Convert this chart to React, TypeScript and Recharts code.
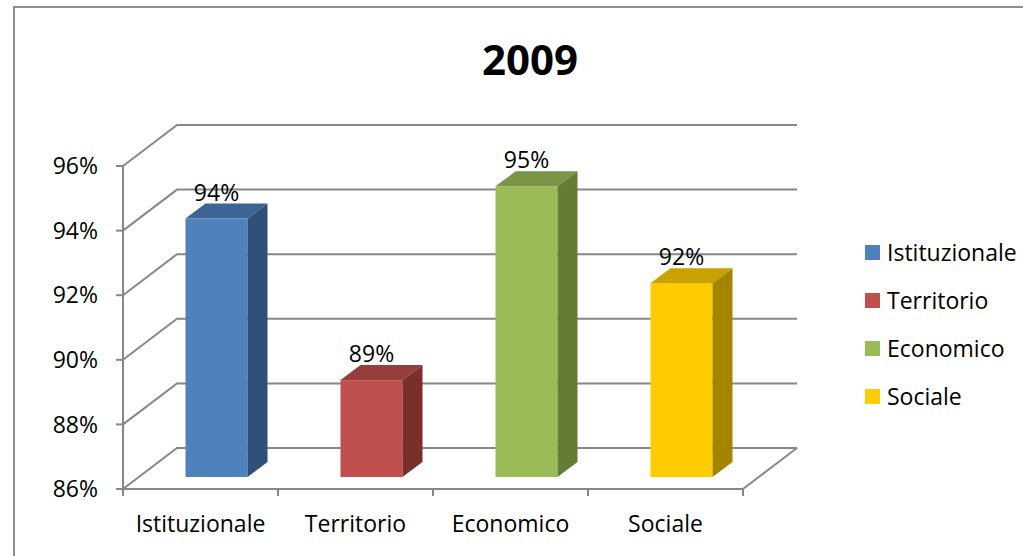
import React from 'react';
import { BarChart, Bar, XAxis, YAxis, CartesianGrid, Legend, LabelList } from 'recharts';

const title = '2009';
const categories = ['Istituzionale', 'Territorio', 'Economico', 'Sociale'];
const values = [94, 89, 95, 92];
const yTicks = [86, 88, 90, 92, 94, 96];
const frontColors = ['#4F81BD', '#C0504D', '#9BBB59', '#FFCC00'];
const topColors = ['#3C6596', '#953E3B', '#7A9545', '#C9A200'];
const sideColors = ['#2F5079', '#7A2F2D', '#657C36', '#A58500'];

const data = categories.map((name, i) => ({ name, value: values[i], i }));

const W = 1023;
const H = 556;
const M = { top: 166, right: 280, bottom: 17, left: 23 };
const Y_W = 100;
const X_H = 50;
const plotW = W - M.left - M.right - Y_W;
const band = plotW / categories.length;

const WALL_DX = 54;
const WALL_DY = 41;
const BAR_SHIFT_X = 15.5;
const BAR_SHIFT_Y = 12;
const BAR_DX = 20;
const BAR_DY = 15;
const GRID = '#878787';
const FONT = '"Open Sans", sans-serif';
const FS = 23;

const gridLine = (p: any) => {
  const { x1, y1, x2 } = p;
  return (
    <polyline
      key={p.key ?? `g-${y1}`}
      points={`${x1},${y1} ${x1 + WALL_DX},${y1 - WALL_DY} ${x2 + WALL_DX},${y1 - WALL_DY}`}
      fill="none"
      stroke={GRID}
      strokeWidth={2}
    />
  );
};

const Bar3D = (p: any) => {
  const { x, y, width, height, payload } = p;
  const i = payload.i;
  const fx = x + BAR_SHIFT_X;
  const fy = y - BAR_SHIFT_Y;
  const bx = fx + width;
  const by = fy + height;
  return (
    <g>
      <rect x={fx} y={fy} width={width} height={height} fill={frontColors[i]} />
      <polygon
        points={`${fx},${fy} ${bx},${fy} ${bx + BAR_DX},${fy - BAR_DY} ${fx + BAR_DX},${fy - BAR_DY}`}
        fill={topColors[i]}
      />
      <polygon
        points={`${bx},${fy} ${bx + BAR_DX},${fy - BAR_DY} ${bx + BAR_DX},${by - BAR_DY} ${bx},${by}`}
        fill={sideColors[i]}
      />
    </g>
  );
};

const BarLabel = (p: any) => {
  const vb = p.viewBox || {};
  const x = p.x ?? vb.x;
  const y = p.y ?? vb.y;
  const width = p.width ?? vb.width;
  return (
    <text
      x={x + width / 2 + BAR_SHIFT_X}
      y={y - 30}
      textAnchor="middle"
      fontSize={FS}
      fontFamily={FONT}
      fill="#000"
    >
      {`${p.value}%`}
    </text>
  );
};

const XTick = (p: any) => {
  const { x, y, payload, index } = p;
  const half = band / 2;
  const last = index === categories.length - 1;
  return (
    <g>
      <line x1={x - half} y1={y} x2={x - half} y2={y + 7} stroke={GRID} strokeWidth={2} />
      {last && <line x1={x + half} y1={y} x2={x + half} y2={y + 7} stroke={GRID} strokeWidth={2} />}
      {last && (
        <line x1={x + half} y1={y} x2={x + half + WALL_DX} y2={y - WALL_DY} stroke={GRID} strokeWidth={2} />
      )}
      <text x={x} y={y + 43} textAnchor="middle" fontSize={FS} fontFamily={FONT} fill="#000">
        {payload.value}
      </text>
    </g>
  );
};

const LegendContent = () => (
  <div style={{ fontFamily: FONT, fontSize: FS, color: '#000' }}>
    {categories.map((c, i) => (
      <div key={c} style={{ display: 'flex', alignItems: 'center', height: 48 }}>
        <div style={{ width: 15, height: 15, background: frontColors[i], marginRight: 7 }} />
        <span style={{ lineHeight: '48px', whiteSpace: 'nowrap' }}>{c}</span>
      </div>
    ))}
  </div>
);

export default function App() {
  return (
    <div style={{ position: 'absolute', left: 0, top: 0, width: W, height: H, overflow: 'hidden', background: '#fff' }}>
      <div
        style={{
          position: 'absolute',
          left: 13,
          top: 6,
          width: W - 13,
          height: H - 6,
          borderLeft: '2.5px solid #8E8E8E',
          borderTop: '2.5px solid #8E8E8E',
          boxSizing: 'border-box',
        }}
      />
      <div
        style={{
          position: 'absolute',
          left: 430,
          top: 38,
          width: 200,
          textAlign: 'center',
          fontFamily: FONT,
          fontWeight: 700,
          fontSize: 42,
          lineHeight: '42px',
          color: '#000',
        }}
      >
        {title}
      </div>
      <div style={{ position: 'absolute', left: 0, top: 0 }}>
        <BarChart width={W} height={H} data={data} margin={M} barSize={62}>
          <CartesianGrid horizontal={gridLine} vertical={false} />
          <XAxis
            dataKey="name"
            height={X_H}
            interval={0}
            tickSize={0}
            tickMargin={0}
            tickLine={false}
            axisLine={{ stroke: GRID, strokeWidth: 2 }}
            tick={<XTick />}
          />
          <YAxis
            width={Y_W}
            domain={[86, 96]}
            ticks={yTicks}
            allowDataOverflow
            tickFormatter={(v: number) => `${v}%`}
            tickSize={7}
            tickMargin={18}
            axisLine={{ stroke: GRID, strokeWidth: 2 }}
            tickLine={{ stroke: GRID, strokeWidth: 2 }}
            tick={{ fill: '#000', fontSize: FS, fontFamily: FONT }}
          />
          <Legend
            layout="vertical"
            align="center"
            verticalAlign="middle"
            wrapperStyle={{ left: 865, top: 228, width: 160 }}
            content={<LegendContent />}
          />
          <Bar dataKey="value" shape={<Bar3D />} isAnimationActive={false}>
            <LabelList dataKey="value" content={<BarLabel />} />
          </Bar>
        </BarChart>
      </div>
    </div>
  );
}
